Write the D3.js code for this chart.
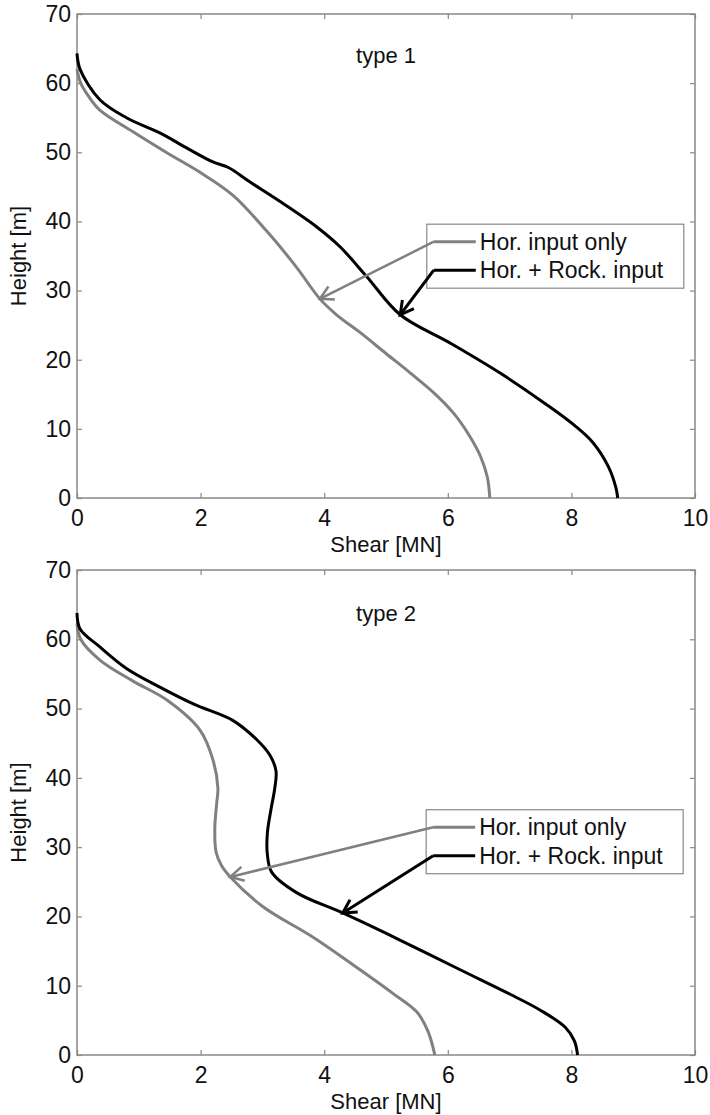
<!DOCTYPE html>
<html>
<head>
<meta charset="utf-8">
<script src="https://cdn.jsdelivr.net/npm/d3@7"></script>
<style>
body{margin:0;background:#fff}
text{font-family:"Liberation Sans",Arial,sans-serif;fill:#111}
</style>
</head>
<body>
<div id="chart"></div>
<script>
// tick values
const xTicks = [0,2,4,6,8,10]
const yTicks = [0,10,20,30,40,50,60,70]

// type 1 - horizontal input only (grey)
const t1HorShear  = [0,0.06,0.18,0.37,0.9,1.46,1.99,2.52,3.07,3.55,3.93,4.2,4.6,5.0,5.39,5.8,6.1,6.35,6.53,6.64,6.68]
const t1HorHeight = [62,60,58.2,56.1,53,49.9,47.1,43.8,38.6,33.4,28.8,26.5,23.8,20.9,18.1,15,12.2,9,6,3,0]
// type 1 - horizontal + rocking input (black)
const t1RockShear  = [0,0.05,0.37,0.8,1.34,1.8,2.2,2.45,2.8,3.3,3.88,4.26,4.69,5.23,6.04,6.84,7.6,8.05,8.35,8.6,8.72,8.75]
const t1RockHeight = [64.3,62,57.6,55,52.8,50.5,48.6,47.8,45.7,42.8,39.2,36.3,32,26.5,22.4,18.1,13.5,10.5,8,4.5,1.5,0]

// type 2 - horizontal input only (grey)
const t2HorShear  = [0,0.06,0.37,0.9,1.46,1.99,2.2,2.28,2.26,2.23,2.25,2.34,2.48,3.01,3.82,4.58,5.11,5.5,5.68,5.79]
const t2HorHeight = [62.3,60,57,54,51.2,46.9,42.6,38.5,36.3,32.8,29.3,27.3,25.7,21.4,17,12.3,8.9,6.2,3.4,0]
// type 2 - horizontal + rocking input (black)
const t2RockShear  = [0,0.05,0.37,0.8,1.34,1.9,2.52,2.91,3.12,3.22,3.2,3.14,3.08,3.08,3.15,3.56,4.3,5.2,6.2,7.0,7.49,7.9,8.05,8.1]
const t2RockHeight = [63.8,61.5,58.9,55.8,53.1,50.6,48.3,45.5,43.3,41,38.5,35.5,32,29,26.4,23.4,20.5,16.7,12.3,8.8,6.5,4,2,0]

const seriesNames = ["Hor. input only","Hor. + Rock. input"]
const seriesColors = ["#808080","#000000"]

// where the arrows point (shear, height) and legend corner (shear, height)
const t1Arrows = [[3.93,28.8],[5.23,26.5]]
const t2Arrows = [[2.48,25.7],[4.30,20.5]]
const t1Legend = [5.66,39.6]
const t2Legend = [5.65,35.4]

const W = 710, H = 1115
const svg = d3.select("#chart").append("svg").attr("width",W).attr("height",H)

drawPanel(svg,14,498,"type 1",
    [zip(t1HorShear,t1HorHeight),zip(t1RockShear,t1RockHeight)],t1Legend,t1Arrows,49)
drawPanel(svg,570,1055,"type 2",
    [zip(t2HorShear,t2HorHeight),zip(t2RockShear,t2RockHeight)],t2Legend,t2Arrows,51)

function zip(a,b){
    return a.map((v,i) => ({v:v,h:b[i]}))
}

function drawPanel(svg,top,bottom,title,curves,legendAt,arrows,titleOff){
    const left = 77, right = 695
    const x = d3.scaleLinear().domain([0,10]).range([left,right])
    const y = d3.scaleLinear().domain([0,70]).range([bottom,top])
    const g = svg.append("g")

    // axes with inward ticks
    const axB = g.append("g").attr("transform",`translate(0,${bottom})`)
        .call(d3.axisBottom(x).tickValues(xTicks).tickSize(-5).tickPadding(12))
    const axT = g.append("g").attr("transform",`translate(0,${top})`)
        .call(d3.axisTop(x).tickValues(xTicks).tickSize(-5).tickFormat(""))
    const axL = g.append("g").attr("transform",`translate(${left},0)`)
        .call(d3.axisLeft(y).tickValues(yTicks).tickSize(-5).tickPadding(6))
    const axR = g.append("g").attr("transform",`translate(${right},0)`)
        .call(d3.axisRight(y).tickValues(yTicks).tickSize(-5).tickFormat(""))
    ;[axB,axT,axL,axR].forEach(a => {
        a.select(".domain").remove()
        a.selectAll("line").attr("stroke","#888").attr("stroke-width",1.2)
        a.selectAll("text").attr("font-size","23px").attr("fill","#111")
            .attr("font-family","'Liberation Sans',Arial,sans-serif")
    })

    g.append("rect").attr("x",left).attr("y",top).attr("width",right-left).attr("height",bottom-top)
        .attr("fill","none").attr("stroke","#888").attr("stroke-width",1.5)

    const line = d3.line().x(d => x(d.v)).y(d => y(d.h)).curve(d3.curveCatmullRom.alpha(0.5))
    curves.forEach((c,i) => {
        g.append("path").datum(c).attr("d",line).attr("fill","none")
            .attr("stroke",seriesColors[i]).attr("stroke-width",3).attr("stroke-linejoin","round")
    })

    g.append("text").attr("x",x(5)).attr("y",top+titleOff).attr("text-anchor","middle")
        .attr("font-size","22px").text(title)

    g.append("text").attr("x",x(5)).attr("y",bottom+54).attr("text-anchor","middle")
        .attr("font-size","22px").text("Shear [MN]")
    g.append("text").attr("transform",`translate(26,${(top+bottom)/2}) rotate(-90)`)
        .attr("text-anchor","middle").attr("font-size","22px").text("Height [m]")

    // legend box
    const lx = x(legendAt[0]), ly = y(legendAt[1])
    g.append("rect").attr("x",lx).attr("y",ly).attr("width",257).attr("height",64)
        .attr("fill","#fff").attr("stroke","#888").attr("stroke-width",1.2)
    const rowY = [ly+17.5,ly+46]
    seriesNames.forEach((name,i) => {
        const sx = lx+7, ex = lx+49
        g.append("line").attr("x1",sx).attr("x2",ex).attr("y1",rowY[i]).attr("y2",rowY[i])
            .attr("stroke",seriesColors[i]).attr("stroke-width",3)
        g.append("text").attr("x",lx+53).attr("y",rowY[i]+8).attr("font-size","23px").text(name)

        // arrow from legend sample to the curve
        const tx = x(arrows[i][0]), ty = y(arrows[i][1])
        g.append("line").attr("x1",sx).attr("y1",rowY[i]).attr("x2",tx).attr("y2",ty)
            .attr("stroke",seriesColors[i]).attr("stroke-width",i === 0 ? 2.5 : 3)
        const ang = Math.atan2(ty-rowY[i],tx-sx)
        const len = 15, spread = 0.5
        const p1 = [tx-len*Math.cos(ang-spread),ty-len*Math.sin(ang-spread)]
        const p2 = [tx-len*Math.cos(ang+spread),ty-len*Math.sin(ang+spread)]
        g.append("path").attr("d",`M${p1}L${tx},${ty}L${p2}`).attr("fill","none")
            .attr("stroke",seriesColors[i]).attr("stroke-width",i === 0 ? 2.5 : 3)
    })
}
</script>
</body>
</html>
